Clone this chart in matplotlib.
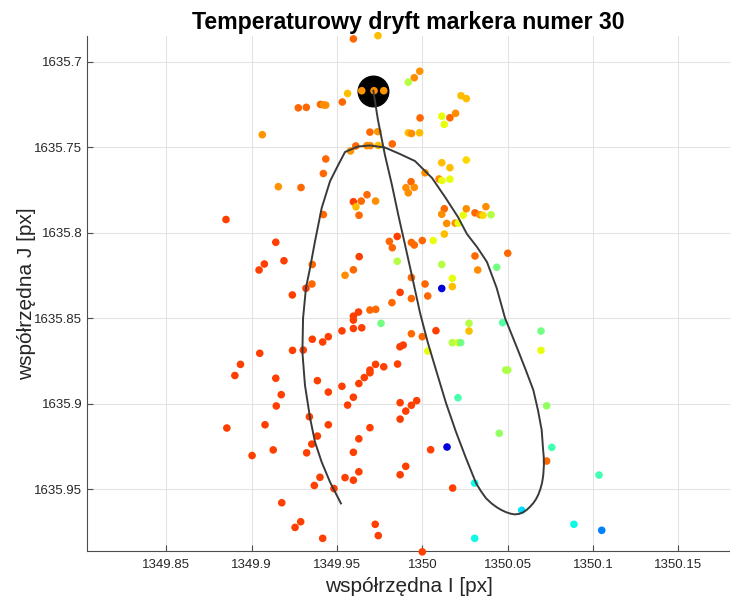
import numpy as np
import matplotlib
matplotlib.use('Agg')
import matplotlib.pyplot as plt

plt.rcParams['font.family'] = ['Liberation Sans', 'DejaVu Sans']

# Marker positions (I, J) and normalised temperature used for the jet colour.
pos_i = [
    1349.9596, 1349.9740, 1349.9985, 1349.9953, 1349.9918, 1349.9645, 1349.9717, 1349.9774,
    1349.9562, 1350.0227, 1350.0258, 1349.9273, 1349.9320, 1349.9403, 1349.9421, 1349.9434,
    1349.9531, 1349.9062, 1349.9987, 1350.0114, 1350.0129, 1350.0162, 1350.0195, 1349.9693,
    1349.9739, 1349.9918, 1349.9937, 1349.9984, 1349.9824, 1349.9610, 1349.9579, 1349.9675,
    1349.9695, 1349.9742, 1349.9434, 1349.9420, 1349.9156, 1349.9289, 1350.0114, 1350.0162,
    1350.0258, 1350.0016, 1350.0098, 1350.0115, 1350.0162, 1349.9934, 1349.9904, 1349.9953,
    1349.9918, 1349.9676, 1349.9596, 1349.9642, 1349.9726, 1349.9611, 1349.9629, 1349.9420,
    1349.8849, 1350.0129, 1350.0114, 1350.0143, 1350.0193, 1350.0211, 1350.0240, 1350.0258,
    1350.0309, 1350.0338, 1350.0356, 1350.0373, 1350.0403, 1350.0129, 1350.0064, 1350.0000,
    1349.9936, 1349.9953, 1349.9853, 1349.9807, 1349.9824, 1349.9141, 1349.9189, 1349.9074,
    1349.9043, 1349.9355, 1349.9353, 1349.9318, 1349.9547, 1349.9630, 1349.9596, 1349.9853,
    1349.9936, 1350.0016, 1350.0114, 1350.0176, 1350.0176, 1350.0114, 1350.0309, 1350.0325,
    1350.0501, 1350.0436, 1349.9238, 1349.9870, 1349.9936, 1350.0032, 1349.9822, 1349.9626,
    1349.9693, 1349.9727, 1349.9596, 1349.9596, 1349.9758, 1349.9596, 1349.9645, 1349.9529,
    1349.9936, 1350.0000, 1350.0080, 1350.0274, 1350.0274, 1350.0176, 1350.0211, 1350.0225,
    1350.0032, 1349.9888, 1349.9869, 1349.9449, 1349.9416, 1349.9355, 1349.9047, 1349.9239,
    1349.9302, 1349.8934, 1349.8901, 1349.9141, 1349.9385, 1349.9529, 1349.9449, 1349.9173,
    1349.9144, 1349.9855, 1349.9774, 1349.9726, 1349.9693, 1349.9693, 1349.9660, 1349.9628,
    1349.9596, 1349.9562, 1349.9870, 1349.9903, 1349.9936, 1349.9967, 1349.9870, 1349.9338,
    1349.8854, 1349.9078, 1349.9449, 1349.9693, 1349.9385, 1349.9352, 1349.9628, 1349.9126,
    1349.9322, 1349.9002, 1349.9596, 1350.0049, 1350.0145, 1350.0209, 1349.9903, 1349.9870,
    1349.9628, 1349.9596, 1349.9547, 1349.9400, 1349.9367, 1349.9482, 1350.0178, 1350.0307,
    1349.9176, 1349.9287, 1349.9254, 1349.9416, 1349.9724, 1349.9742, 1350.0307, 1350.0000,
    1350.0471, 1350.0696, 1350.0696, 1350.0489, 1350.0501, 1350.0729, 1350.0451, 1350.0759,
    1350.0729, 1350.1036, 1350.0583, 1350.0889, 1350.1052,
]
pos_j = [
    1635.6867, 1635.6848, 1635.7056, 1635.7094, 1635.7120, 1635.7170, 1635.7170, 1635.7170,
    1635.7186, 1635.7199, 1635.7216, 1635.7270, 1635.7267, 1635.7250, 1635.7253, 1635.7254,
    1635.7236, 1635.7427, 1635.7329, 1635.7319, 1635.7367, 1635.7328, 1635.7302, 1635.7412,
    1635.7409, 1635.7416, 1635.7420, 1635.7416, 1635.7481, 1635.7493, 1635.7522, 1635.7491,
    1635.7491, 1635.7490, 1635.7569, 1635.7654, 1635.7731, 1635.7736, 1635.7591, 1635.7620,
    1635.7575, 1635.7650, 1635.7686, 1635.7695, 1635.7687, 1635.7702, 1635.7737, 1635.7735,
    1635.7767, 1635.7778, 1635.7819, 1635.7815, 1635.7815, 1635.7849, 1635.7898, 1635.7894,
    1635.7923, 1635.7860, 1635.7892, 1635.7946, 1635.7944, 1635.7944, 1635.7898, 1635.7860,
    1635.7884, 1635.7895, 1635.7898, 1635.7848, 1635.7895, 1635.8008, 1635.8046, 1635.8046,
    1635.8057, 1635.8072, 1635.8022, 1635.8051, 1635.8088, 1635.8056, 1635.8164, 1635.8183,
    1635.8218, 1635.8186, 1635.8300, 1635.8325, 1635.8249, 1635.8140, 1635.8217, 1635.8167,
    1635.8262, 1635.8300, 1635.8186, 1635.8267, 1635.8315, 1635.8326, 1635.8136, 1635.8218,
    1635.8120, 1635.8202, 1635.8364, 1635.8349, 1635.8385, 1635.8370, 1635.8409, 1635.8464,
    1635.8452, 1635.8448, 1635.8488, 1635.8511, 1635.8530, 1635.8560, 1635.8556, 1635.8574,
    1635.8591, 1635.8608, 1635.8573, 1635.8530, 1635.8575, 1635.8643, 1635.8643, 1635.8643,
    1635.8692, 1635.8657, 1635.8667, 1635.8608, 1635.8639, 1635.8623, 1635.8705, 1635.8688,
    1635.8686, 1635.8770, 1635.8835, 1635.8851, 1635.8865, 1635.8898, 1635.8932, 1635.8947,
    1635.9013, 1635.8768, 1635.8784, 1635.8770, 1635.8803, 1635.8819, 1635.8847, 1635.8882,
    1635.8962, 1635.9008, 1635.8994, 1635.9043, 1635.9009, 1635.8982, 1635.9090, 1635.9076,
    1635.9142, 1635.9123, 1635.9123, 1635.9140, 1635.9189, 1635.9236, 1635.9205, 1635.9270,
    1635.9287, 1635.9303, 1635.9284, 1635.9269, 1635.9253, 1635.8965, 1635.9366, 1635.9415,
    1635.9398, 1635.9447, 1635.9432, 1635.9430, 1635.9478, 1635.9496, 1635.9493, 1635.9464,
    1635.9579, 1635.9690, 1635.9723, 1635.9787, 1635.9705, 1635.9771, 1635.9787, 1635.9866,
    1635.8526, 1635.8575, 1635.8688, 1635.8803, 1635.8803, 1635.9012, 1635.9173, 1635.9255,
    1635.9335, 1635.9417, 1635.9623, 1635.9705, 1635.9740,
]
temp = [
    0.80, 0.71, 0.75, 0.76, 0.57, 0.75, 0.76, 0.75,
    0.71, 0.71, 0.71, 0.80, 0.80, 0.80, 0.76, 0.76,
    0.80, 0.75, 0.80, 0.63, 0.63, 0.80, 0.76, 0.80,
    0.75, 0.71, 0.76, 0.71, 0.80, 0.80, 0.75, 0.76,
    0.76, 0.71, 0.80, 0.80, 0.75, 0.80, 0.71, 0.71,
    0.68, 0.76, 0.76, 0.63, 0.63, 0.80, 0.76, 0.76,
    0.76, 0.80, 0.84, 0.80, 0.76, 0.71, 0.80, 0.80,
    0.84, 0.80, 0.76, 0.76, 0.76, 0.63, 0.63, 0.76,
    0.80, 0.76, 0.68, 0.76, 0.57, 0.71, 0.63, 0.80,
    0.80, 0.80, 0.84, 0.80, 0.80, 0.84, 0.84, 0.84,
    0.84, 0.80, 0.80, 0.84, 0.76, 0.84, 0.80, 0.57,
    0.80, 0.80, 0.57, 0.63, 0.71, 0.08, 0.80, 0.76,
    0.80, 0.49, 0.84, 0.84, 0.80, 0.80, 0.80, 0.84,
    0.80, 0.80, 0.84, 0.84, 0.49, 0.84, 0.84, 0.84,
    0.80, 0.80, 0.84, 0.57, 0.71, 0.57, 0.63, 0.49,
    0.63, 0.84, 0.84, 0.84, 0.84, 0.84, 0.84, 0.84,
    0.84, 0.84, 0.84, 0.84, 0.84, 0.84, 0.84, 0.84,
    0.84, 0.84, 0.84, 0.84, 0.84, 0.84, 0.84, 0.84,
    0.84, 0.84, 0.84, 0.84, 0.84, 0.84, 0.84, 0.84,
    0.84, 0.84, 0.84, 0.84, 0.84, 0.84, 0.84, 0.84,
    0.84, 0.84, 0.84, 0.84, 0.08, 0.44, 0.84, 0.84,
    0.84, 0.84, 0.84, 0.84, 0.84, 0.84, 0.84, 0.37,
    0.84, 0.84, 0.84, 0.84, 0.84, 0.84, 0.37, 0.84,
    0.45, 0.49, 0.63, 0.56, 0.56, 0.53, 0.53, 0.43,
    0.80, 0.43, 0.34, 0.37, 0.25,
]

# Reference marker position (start of the drift trajectory).
ref_i, ref_j = 1349.9710, 1635.7170

# Drift trajectory (model curve).
traj_i = [
    1349.9713, 1349.9740, 1349.9781, 1349.9822, 1349.9859, 1349.9899, 1349.9938, 1349.9987,
    1350.0033, 1350.0086, 1350.0139, 1350.0198, 1350.0256, 1350.0315, 1350.0345, 1350.0373,
    1350.0405, 1350.0436, 1350.0465, 1350.0491, 1350.0518, 1350.0543, 1350.0568, 1350.0590,
    1350.0612, 1350.0631, 1350.0650, 1350.0666, 1350.0680, 1350.0692, 1350.0702, 1350.0709,
    1350.0713, 1350.0712, 1350.0708, 1350.0700, 1350.0678, 1350.0651, 1350.0602, 1350.0553,
    1350.0485, 1350.0436, 1350.0379, 1350.0321, 1350.0262, 1350.0209, 1350.0133, 1350.0057,
    1349.9957, 1349.9869, 1349.9781, 1349.9693, 1349.9623, 1349.9547, 1349.9508, 1349.9459,
    1349.9410, 1349.9371, 1349.9342, 1349.9318, 1349.9301, 1349.9297, 1349.9312, 1349.9342,
    1349.9371, 1349.9410, 1349.9459, 1349.9523,
]
traj_j = [
    1635.7170, 1635.7341, 1635.7546, 1635.7721, 1635.7895, 1635.8072, 1635.8246, 1635.8470,
    1635.8645, 1635.8821, 1635.8996, 1635.9166, 1635.9318, 1635.9464, 1635.9513, 1635.9552,
    1635.9582, 1635.9605, 1635.9622, 1635.9634, 1635.9643, 1635.9647, 1635.9644, 1635.9635,
    1635.9621, 1635.9603, 1635.9582, 1635.9559, 1635.9532, 1635.9500, 1635.9463, 1635.9420,
    1635.9359, 1635.9310, 1635.9265, 1635.9154, 1635.9037, 1635.8920, 1635.8791, 1635.8667,
    1635.8499, 1635.8323, 1635.8171, 1635.8084, 1635.8008, 1635.7908, 1635.7791, 1635.7680,
    1635.7581, 1635.7540, 1635.7502, 1635.7490, 1635.7496, 1635.7528, 1635.7602, 1635.7699,
    1635.7856, 1635.8050, 1635.8206, 1635.8323, 1635.8499, 1635.8698, 1635.8891, 1635.9084,
    1635.9224, 1635.9341, 1635.9458, 1635.9583,
]

x_ticks = [1349.85, 1349.9, 1349.95, 1350.0, 1350.05, 1350.1, 1350.15]
x_labels = ['1349.85', '1349.9', '1349.95', '1350', '1350.05', '1350.1', '1350.15']
y_ticks = [1635.7, 1635.75, 1635.8, 1635.85, 1635.9, 1635.95]
y_labels = ['1635.7', '1635.75', '1635.8', '1635.85', '1635.9', '1635.95']

fig = plt.figure(figsize=(7.30, 6.01), dpi=100)
ax = fig.add_axes([0.1196, 0.0832, 0.8804, 0.8569])

ax.plot([ref_i], [ref_j], 'o', color='black', ms=22, zorder=2)
ax.scatter(pos_i, pos_j, c=temp, cmap='jet', vmin=0, vmax=1, s=30,
    edgecolors='none', zorder=3, clip_on=False)
ax.plot(traj_i, traj_j, color='#3a3a3a', lw=1.4, zorder=4)

ax.set_xlim(1349.8036, 1350.1804)
ax.set_ylim(1635.9861, 1635.6850)
ax.set_xticks(x_ticks)
ax.set_xticklabels(x_labels)
ax.set_yticks(y_ticks)
ax.set_yticklabels(y_labels)

ax.grid(True, color='#e3e3e3', lw=0.8)
ax.set_axisbelow(True)
for side in ['top', 'right']:
    ax.spines[side].set_visible(False)
for side in ['left', 'bottom']:
    ax.spines[side].set_color('#4d4d4d')
    ax.spines[side].set_linewidth(0.8)
ax.tick_params(direction='in', length=4, width=0.8, color='#4d4d4d',
    labelsize=9.5, labelcolor='#262626')
ax.tick_params(axis='x', pad=6)
ax.tick_params(axis='y', pad=3.5)

ax.set_title('Temperaturowy dryft markera numer 30', fontsize=16.7,
    fontweight='bold', pad=5)
ax.set_xlabel('współrzędna I [px]', fontsize=15, color='#262626', labelpad=4)
ax.set_ylabel('współrzędna J [px]', fontsize=15, color='#262626', labelpad=-1)

fig.savefig('out.png', dpi=100)
